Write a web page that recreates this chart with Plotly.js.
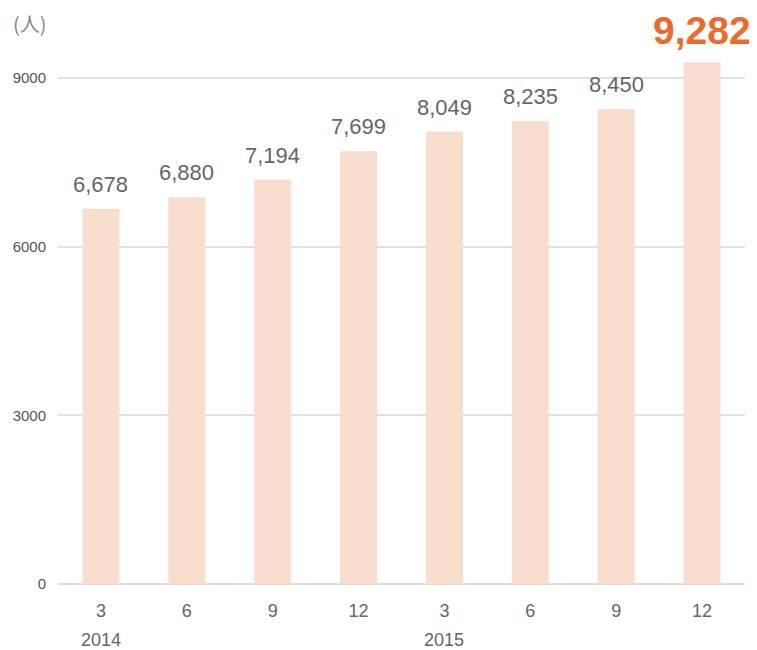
<!DOCTYPE html>
<html><head><meta charset="utf-8">
<script src="https://cdn.plot.ly/plotly-3.0.1.min.js"></script>
<style>body{margin:0;background:#fff}#c{width:757px;height:650px}</style>
</head><body><div id="c"></div>
<script>
const months = ['3','6','9','12','3','6','9','12'];
const years = ['2014','','','','2015','','',''];
const values = [6678, 6880, 7194, 7699, 8049, 8235, 8450, 9282];
const yTicks = [0, 3000, 6000, 9000];

const idx = values.map((v,i)=>i);
const fmt = v => v.toLocaleString('en-US');
const last = values.length - 1;
const FONT = 'Liberation Sans, Arial, sans-serif';

const annotations = values.map((v,i)=>({
  x: i, y: v, xref:'x', yref:'y', text: fmt(v), showarrow:false,
  yanchor:'bottom', yshift: i===last ? 8 : 10,
  font: i===last ? {family:FONT, size:39, color:'#EC6A2C', weight:'bold'}
                 : {family:FONT, size:22, color:'#666666'}
}));
years.forEach((y,i)=>{ if(y) annotations.push({x:i, y:0, xref:'x', yref:'y', text:y, showarrow:false,
  yanchor:'top', yshift:-44, font:{family:FONT, size:18, color:'#666666'}}); });
annotations.push({xref:'paper', yref:'paper', x:-0.068, y:1.018, xanchor:'left', yanchor:'bottom',
  text:'(人)', showarrow:false, font:{family:'Noto Sans CJK JP, sans-serif', size:20, color:'#888888'}});

const layout = {
  width:757, height:650,
  margin:{l:58, r:12, t:50, b:66},
  paper_bgcolor:'#fff', plot_bgcolor:'#fff',
  showlegend:false,
  bargap:0.57,
  annotations: annotations,
  xaxis:{tickmode:'array', tickvals:idx, ticktext:months, range:[-0.5, 7.5],
    showgrid:false, zeroline:false, showline:false, ticks:'', ticklabelstandoff:14,
    tickfont:{family:FONT, size:18, color:'#666666'}},
  yaxis:{range:[0, 9500], tickmode:'array', tickvals:yTicks, ticktext:yTicks.map(String),
    showgrid:true, gridcolor:'#E0E0E0', gridwidth:2, zeroline:true, zerolinecolor:'#E0E0E0', zerolinewidth:2,
    showline:false, ticks:'', ticklabelstandoff:11,
    tickfont:{family:FONT, size:15, color:'#555555'}}
};

Plotly.newPlot('c', [{type:'bar', x:idx, y:values, marker:{color:'#F9DDCD'}, hoverinfo:'none'}], layout, {staticPlot:true});
</script></body></html>
